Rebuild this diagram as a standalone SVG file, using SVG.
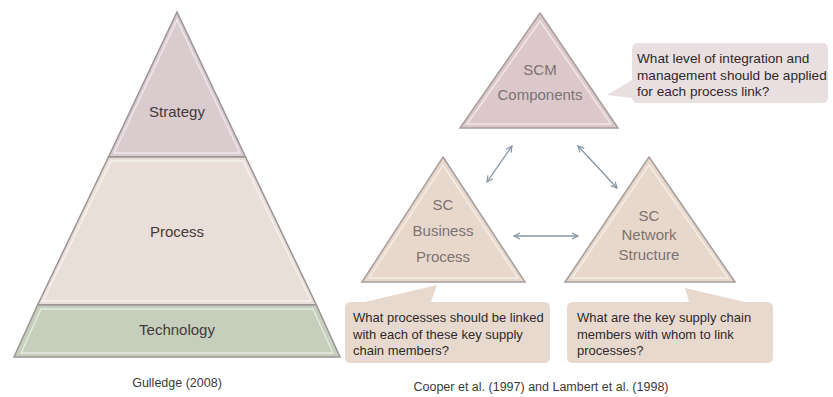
<svg xmlns="http://www.w3.org/2000/svg" width="833" height="397" viewBox="0 0 833 397">
<defs>
<style>
.lbl{font-family:"Liberation Sans",Arial,sans-serif;font-size:15px;fill:#433a3b;text-anchor:middle}
.tl{font-family:"Liberation Sans",Arial,sans-serif;font-size:15px;fill:#7d7272;text-anchor:middle}
.co{font-family:"Liberation Sans",Arial,sans-serif;font-size:13px;fill:#2f2a2a}
.cap{font-family:"Liberation Sans",Arial,sans-serif;font-size:12.5px;fill:#3a3a3a;text-anchor:middle}
.band{stroke:#9c9494;stroke-width:1.5}
.hl{fill:none;stroke:#ffffff;stroke-opacity:0.55;stroke-width:1.5}
.tri{stroke:#a79d9d;stroke-width:1.5}
.bub{stroke:none}
.arr{stroke:#8795a3;stroke-width:1.3;fill:none;marker-start:url(#ah);marker-end:url(#ah)}
</style>
<marker id="ah" viewBox="0 0 8 8" refX="7" refY="4" markerWidth="8" markerHeight="8" markerUnits="userSpaceOnUse" orient="auto-start-reverse">
<path d="M1,1 L7,4 L1,7" fill="none" stroke="#8795a3" stroke-width="1.2"/>
</marker>
</defs>
<rect width="833" height="397" fill="#ffffff"/>

<g id="pyramid">
<g id="strategy">
<polygon class="band" points="177,12 245.5,157 108.5,157" fill="#dacbcf"/>
<polygon class="hl" points="177,20 240,153 114,153"/>
<text class="lbl" x="177" y="117">Strategy</text>
</g>
<g id="process">
<polygon class="band" points="108.5,157 245.5,157 316.4,305 37.6,305" fill="#e9dfd8"/>
<polygon class="hl" points="111,161 243,161 311,301 43,301"/>
<text class="lbl" x="177" y="237">Process</text>
</g>
<g id="technology">
<polygon class="band" points="37.6,305 316.4,305 340,357 14,357" fill="#c6cfbb"/>
<polygon class="hl" points="41,309 313,309 333,353 21,353"/>
<text class="lbl" x="177" y="335">Technology</text>
</g>
</g>

<g id="scm-components">
<polygon class="tri" points="540,13 618,128 460,128" fill="#dcc8cb"/>
<polygon class="hl" points="540,21 611,124 467,124"/>
<text class="tl" x="540" y="75">SCM</text>
<text class="tl" x="540" y="100">Components</text>
</g>

<g id="sc-business-process">
<polygon class="tri" points="443,157 525,282 362,282" fill="#e7d8cb"/>
<polygon class="hl" points="443,165 518,278 369,278"/>
<text class="tl" x="443" y="210">SC</text>
<text class="tl" x="443" y="236">Business</text>
<text class="tl" x="443" y="262">Process</text>
</g>

<g id="sc-network-structure">
<polygon class="tri" points="649,157 735,282 565,282" fill="#e7d8cb"/>
<polygon class="hl" points="649,165 728,278 572,278"/>
<text class="tl" x="649" y="221">SC</text>
<text class="tl" x="649" y="240">Network</text>
<text class="tl" x="649" y="260">Structure</text>
</g>

<g id="connectors">
<line class="arr" x1="512" y1="146" x2="487" y2="182"/>
<line class="arr" x1="578" y1="146" x2="617" y2="188"/>
<line class="arr" x1="514" y1="236" x2="578" y2="236"/>
</g>

<g id="callout-top">
<path class="bub" fill="#e9dfe0" d="M638,43 H822 Q828,43 828,49 V97 Q828,103 822,103 H638 Q632,103 632,97 V98 L607,95 L632,80 V49 Q632,43 638,43 Z"/>
<text class="co" x="637" y="63" style="font-size:13.6px">What level of integration and</text>
<text class="co" x="637" y="79.5" style="font-size:13.6px">management should be applied</text>
<text class="co" x="637" y="96" style="font-size:13.6px">for each process link?</text>
</g>

<g id="callout-bp">
<path class="bub" fill="#e8d9cf" d="M351,302 H365 L437,285 L431,302 H544 Q550,302 550,308 V357 Q550,363 544,363 H351 Q345,363 345,357 V308 Q345,302 351,302 Z"/>
<text class="co" x="353" y="322">What processes should be linked</text>
<text class="co" x="353" y="338.5">with each of these key supply</text>
<text class="co" x="353" y="355">chain members?</text>
</g>

<g id="callout-ns">
<path class="bub" fill="#e8d9cf" d="M573,302 H689 L685,288 L745,302 H767 Q773,302 773,308 V357 Q773,363 767,363 H573 Q567,363 567,357 V308 Q567,302 573,302 Z"/>
<text class="co" x="577" y="322">What are the key supply chain</text>
<text class="co" x="577" y="338.5">members with whom to link</text>
<text class="co" x="577" y="355">processes?</text>
</g>

<g id="captions">
<text class="cap" x="177" y="387">Gulledge (2008)</text>
<text class="cap" x="541" y="391">Cooper et al. (1997) and Lambert et al. (1998)</text>
</g>
</svg>
